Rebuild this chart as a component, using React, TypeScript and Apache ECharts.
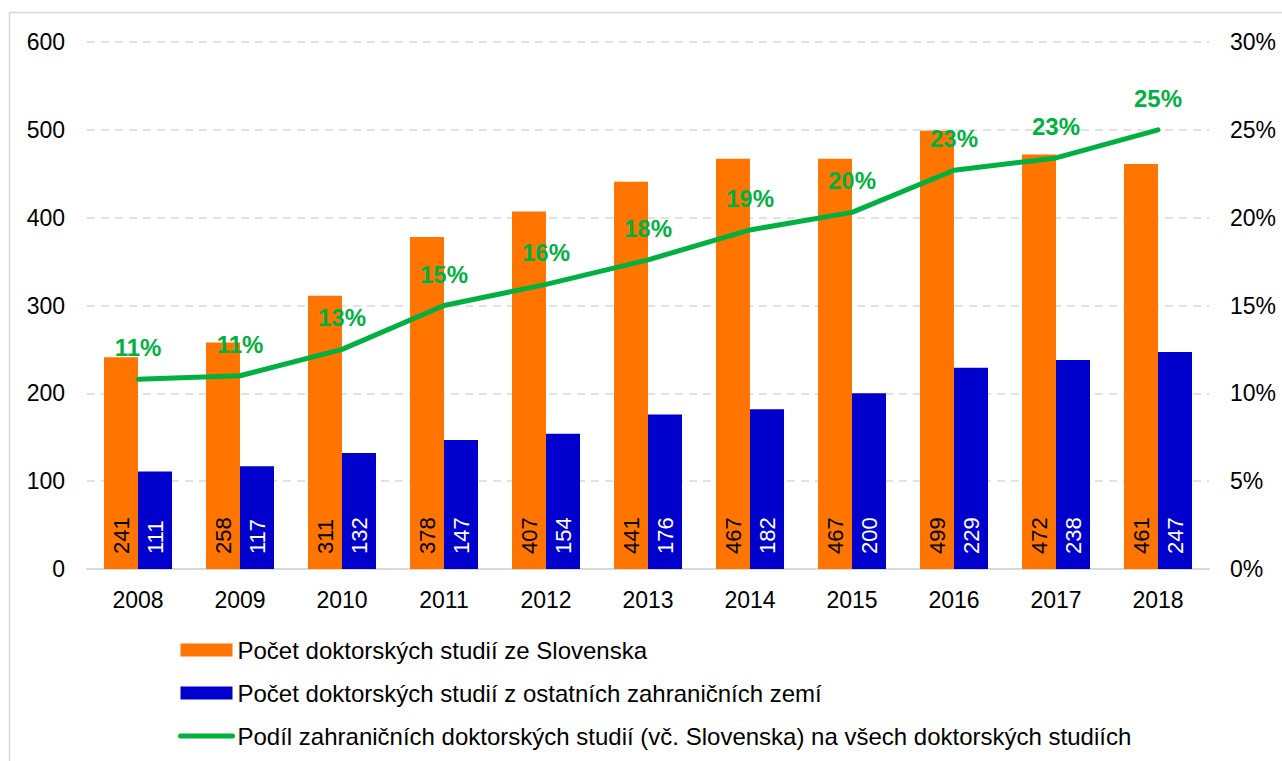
import React, { useEffect, useRef } from "react";
import * as echarts from "echarts";

const years = ["2008", "2009", "2010", "2011", "2012", "2013", "2014", "2015", "2016", "2017", "2018"];
const slovakia = [241, 258, 311, 378, 407, 441, 467, 467, 499, 472, 461];
const otherForeign = [111, 117, 132, 147, 154, 176, 182, 200, 229, 238, 247];
const foreignShare = [10.8, 11.0, 12.5, 15.0, 16.2, 17.6, 19.3, 20.3, 22.7, 23.4, 25.0];

const seriesNames = [
  "Počet doktorských studií ze Slovenska",
  "Počet doktorských studií z ostatních zahraničních zemí",
  "Podíl zahraničních doktorských studií (vč. Slovenska) na všech doktorských studiích",
];

const FONT = "'Liberation Sans', Arial, sans-serif";
const ORANGE = "#ff7500";
const BLUE = "#0000cc";
const GREEN = "#00b040";

export default function App() {
  const ref = useRef<HTMLDivElement>(null);
  useEffect(() => {
    document.body.style.margin = "0";
    document.body.style.overflow = "hidden";
    const chart = echarts.init(ref.current!, null, { renderer: "svg" });
    chart.setOption({
      animation: false,
      backgroundColor: "#ffffff",
      textStyle: { fontFamily: FONT },
      graphic: [
        {
          type: "rect",
          shape: { x: 9.5, y: 12.5, width: 1400, height: 1000 },
          style: { fill: "none", stroke: "#d9d9d9", lineWidth: 1.5 },
          silent: true,
          z: -1,
        },
      ],
      grid: { left: 87, right: 73, top: 42, bottom: 192, containLabel: false },
      legend: {
        orient: "vertical",
        left: 178,
        top: 638,
        padding: 0,
        itemWidth: 52,
        itemHeight: 13,
        itemGap: 19,
        textStyle: { fontSize: 24, lineHeight: 24, color: "#000", fontFamily: FONT },
        data: [
          { name: seriesNames[0], icon: "rect" },
          { name: seriesNames[1], icon: "rect" },
          {
            name: seriesNames[2],
            itemStyle: { opacity: 0 },
            lineStyle: { width: 5, cap: "round", color: GREEN },
          },
        ],
      },
      xAxis: {
        type: "category",
        data: years,
        axisLine: { lineStyle: { color: "#d9d9d9", width: 2 } },
        axisTick: { show: false },
        axisLabel: { fontSize: 23, color: "#000", margin: 19, fontFamily: FONT },
      },
      yAxis: [
        {
          type: "value",
          min: 0,
          max: 600,
          interval: 100,
          axisLine: { show: false },
          axisTick: { show: false },
          axisLabel: { fontSize: 23, color: "#000", margin: 22, fontFamily: FONT },
          splitLine: { lineStyle: { color: "#d9d9d9", type: [8, 6], width: 1.5 } },
        },
        {
          type: "value",
          min: 0,
          max: 30,
          interval: 5,
          position: "right",
          axisLine: { show: false },
          axisTick: { show: false },
          axisLabel: { fontSize: 23, color: "#000", margin: 21, formatter: "{value}%", fontFamily: FONT },
          splitLine: { show: false },
        },
      ],
      series: [
        {
          name: seriesNames[0],
          type: "bar",
          data: slovakia,
          barWidth: 34,
          barGap: "0%",
          itemStyle: { color: ORANGE },
          label: {
            show: true,
            position: "insideBottom",
            rotate: 90,
            align: "left",
            verticalAlign: "middle",
            distance: 15,
            fontSize: 22,
            color: "#000",
            fontFamily: FONT,
          },
        },
        {
          name: seriesNames[1],
          type: "bar",
          data: otherForeign,
          barWidth: 34,
          barGap: "0%",
          itemStyle: { color: BLUE },
          label: {
            show: true,
            position: "insideBottom",
            rotate: 90,
            align: "left",
            verticalAlign: "middle",
            distance: 15,
            fontSize: 22,
            color: "#fff",
            fontFamily: FONT,
          },
        },
        {
          name: seriesNames[2],
          type: "line",
          yAxisIndex: 1,
          data: foreignShare,
          symbol: "circle",
          symbolSize: 1,
          showSymbol: true,
          lineStyle: { color: GREEN, width: 5, cap: "round" },
          itemStyle: { color: GREEN },
          label: {
            show: true,
            position: "top",
            distance: 19,
            fontSize: 24,
            fontWeight: "bold",
            color: GREEN,
            fontFamily: FONT,
            formatter: (p: any) => Math.round(p.value) + "%",
          },
        },
      ],
    });
    return () => chart.dispose();
  }, []);
  return <div ref={ref} style={{ width: 1282, height: 761 }} />;
}
